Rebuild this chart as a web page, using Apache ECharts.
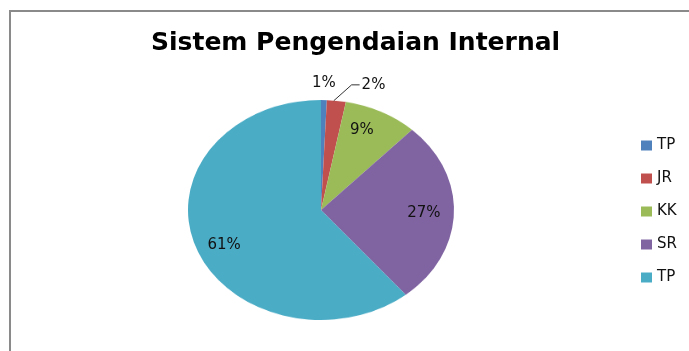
<!DOCTYPE html>
<html><head><meta charset="utf-8">
<script src="https://cdn.jsdelivr.net/npm/echarts@6/dist/echarts.min.js"></script>
<style>
html,body{margin:0;padding:0;background:#fff;overflow:hidden;}
#wrap{position:relative;width:689px;height:351px;overflow:hidden;background:#fff;}
#pie{position:absolute;left:0;top:0;width:689px;height:351px;transform:scaleY(0.827);transform-origin:321px 210px;}
#fg{position:absolute;left:0;top:0;width:689px;height:351px;}
</style></head><body>
<div id="wrap"><div id="pie"></div><div id="fg"></div></div>
<script>
const titleText = 'Sistem Pengendaian Internal';
const categories = ['TP', 'JR', 'KK', 'SR', 'TP'];
const values = [0.7, 2.3, 9, 27, 61];
const colors = ['#4F81BD', '#C0504D', '#9BBB59', '#8064A2', '#4BACC6'];

const keys = categories.map((c, i) => 'k' + i);
const FONT = "'DejaVu Sans', sans-serif";
const center = [321, 210];
const fmt = p => Math.round(p.percent) + '%';

const pieChart = echarts.init(document.getElementById('pie'), null, {renderer: 'canvas'});
pieChart.setOption({
  animation: false,
  series: [{
    type: 'pie', center: center, radius: 133, startAngle: 90, clockwise: true,
    silent: true, label: {show: false}, labelLine: {show: false},
    data: values.map((v, i) => ({name: keys[i], value: v, itemStyle: {color: colors[i]}}))
  }]
});

function labelSeries(radius, showIdx, position, extra) {
  return Object.assign({
    type: 'pie', center: center, radius: radius, startAngle: 90, clockwise: true,
    silent: true, avoidLabelOverlap: false,
    itemStyle: {color: 'rgba(0,0,0,0)'},
    emphasis: {disabled: true},
    label: {show: true, position: position, formatter: fmt,
      fontFamily: FONT, fontSize: 15, color: '#111'},
    labelLine: {show: false},
    data: values.map((v, i) => ({name: keys[i], value: v,
      label: {show: showIdx.indexOf(i) >= 0},
      labelLine: {show: false}}))
  }, extra || {});
}

const s2 = labelSeries([0, 110], [1], 'outside', {
  labelLine: {show: true, length: 16, length2: 8, lineStyle: {color: '#333', width: 1}},
  labelLayout: function (p) {
    const pts = p.labelLinePoints;
    if (!pts) return {dx: 13};
    return {
      dx: 13,
      labelLinePoints: [pts[0], [pts[1][0] + 16, pts[1][1]], [pts[2][0] + 16, pts[2][1]]]
    };
  }
});
s2.data[1].labelLine = {show: true};

const fg = echarts.init(document.getElementById('fg'), null, {renderer: 'canvas'});
fg.setOption({
  animation: false,
  graphic: [{
    type: 'polyline', silent: true, z: -10,
    shape: {points: [[10, 360], [10, 11], [700, 11]]},
    style: {fill: null, stroke: '#8a8a8a', lineWidth: 2}
  }],
  title: {
    text: titleText, left: 151, top: 31, padding: 0,
    textStyle: {fontFamily: FONT, fontWeight: 'bold', fontSize: 25, color: '#000'}
  },
  legend: {
    orient: 'vertical', left: 636, top: 133, itemWidth: 11, itemHeight: 10, itemGap: 18,
    icon: 'rect', selectedMode: false,
    textStyle: {fontFamily: FONT, fontSize: 15, color: '#111'},
    formatter: n => categories[keys.indexOf(n)],
    data: keys.map((k, i) => ({name: k, itemStyle: {color: colors[i]}}))
  },
  series: [
    labelSeries([84, 116], [3, 4], 'inside'),
    labelSeries([77, 97], [2], 'inside'),
    labelSeries([114, 134], [0], 'inside'),
    s2
  ]
});
</script>
</body></html>
